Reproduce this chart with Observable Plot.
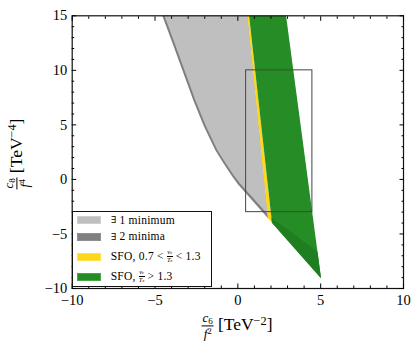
<!DOCTYPE html>
<html><head><meta charset="utf-8">
<script src="https://cdn.jsdelivr.net/npm/d3@7"></script>
<script src="https://cdn.jsdelivr.net/npm/@observablehq/plot@0.6"></script>
<style>
body{margin:0;background:#fff;}
#wrap{position:relative;width:420px;height:349px;font-family:"Liberation Serif","Times New Roman",serif;color:#000;overflow:hidden;}
#wrap svg{position:absolute;left:0;top:0;}
.lab{position:absolute;font-size:17.5px;white-space:nowrap;display:flex;align-items:center;line-height:1;}
.frac{display:inline-flex;flex-direction:column;align-items:center;font-size:13px;line-height:1;margin-right:4px;}
.frac .n{border-bottom:1px solid #000;padding:0 1px 1px;}
.frac .d{padding-top:1px;}
.it{font-style:italic;}
.sm{font-size:70%;}
.sb{font-size:70%;position:relative;top:0.25em;}
.sp{font-size:70%;position:relative;top:-0.45em;}
.ex{font-family:"DejaVu Serif",serif;font-size:10px;margin-right:3px;}
#legend{position:absolute;left:71.7px;top:210.7px;width:140px;height:76px;border:1.3px solid #111;background:#fff;box-sizing:border-box;}
.row{position:absolute;left:0;height:9px;}
.sw{position:absolute;left:4px;width:24px;height:8px;box-sizing:border-box;}
.tx{position:absolute;left:38px;font-size:11.5px;letter-spacing:0.25px;white-space:nowrap;display:flex;align-items:center;height:12px;top:-2.5px;}
.tfrac{display:inline-flex;flex-direction:column;align-items:center;font-size:6.5px;line-height:1;margin:0 3px;letter-spacing:0;}
.tfrac .n{border-bottom:0.6px solid #000;padding:0 0.5px;}
</style>
</head><body>
<div id="wrap"></div>
<script>
// ---- axis ticks ----
const xMajor = [-10, -5, 0, 5, 10];
const xMinor = [-9, -8, -7, -6, -4, -3, -2, -1, 1, 2, 3, 4, 6, 7, 8, 9];
const yMajor = [-10, -5, 0, 5, 10, 15];
const yMinor = [-9, -8, -7, -6, -4, -3, -2, -1, 1, 2, 3, 4, 6, 7, 8, 9, 11, 12, 13, 14];

// ---- regions ----
// "∃ 2 minima" : full allowed region (outer left boundary + right boundary at SFO edge)
const twoMinX = [-4.56, -3.95, -3.35, -2.69, -2.08, -1.36, -0.88, -0.40, 0.0, 1.82, 0.58];
const twoMinY = [15, 12.5, 10, 7.25, 4.96, 2.68, 1.5, 0.4, -0.45, -3.57, 15];
// "∃ 1 minimum"
const oneMinX = [-4.43, -3.82, -3.22, -2.56, -1.95, -1.23, -0.74, -0.26, 0.12, 1.0, 1.8, 0.58];
const oneMinY = [15, 12.5, 10, 7.25, 4.96, 2.68, 1.5, 0.4, -0.35, -1.85, -3.2, 15];
// "SFO, 0.7 < vc/Tc < 1.3"
const sfoWeakX = [0.58, 0.68, 2.06, 1.82];
const sfoWeakY = [15, 15, -3.98, -3.57];
// "SFO, vc/Tc > 1.3"
const sfoStrongX = [0.68, 2.91, 5.02, 2.06];
const sfoStrongY = [15, 15, -9.06, -3.98];
// overlap of strong SFO with 2-minima band
const sfoOverlapX = [2.02, 4.81, 5.02, 2.06];
const sfoOverlapY = [-3.5, -6.63, -9.06, -3.98];
// zoom-inset rectangle
const insetX = [0.5, 4.5];
const insetY = [-3, 10];

const colors = {one: "#bfbfbf", two: "#808080", weak: "#ffd71a", strong: "#268c26", overlap: "#1f7e1f"};

const pts = (xs, ys) => xs.map((x, i) => ({x, y: ys[i]}));
const poly = (xs, ys, fill) => Plot.line(pts(xs, ys), {x: "x", y: "y", fill, stroke: "none", curve: "linear"});

const noText = () => "";
const plot = Plot.plot({
  width: 420, height: 349,
  marginLeft: 71.7, marginRight: 17, marginTop: 15.3, marginBottom: 61,
  x: {domain: [-10, 10]},
  y: {domain: [-10, 15]},
  style: {fontFamily: '"Liberation Serif", "Times New Roman", serif', fontSize: "14.5px", background: "transparent", color: "#000"},
  marks: [
    poly(twoMinX, twoMinY, colors.two),
    poly(oneMinX, oneMinY, colors.one),
    poly(sfoWeakX, sfoWeakY, colors.weak),
    poly(sfoStrongX, sfoStrongY, colors.strong),
    poly(sfoOverlapX, sfoOverlapY, colors.overlap),
    Plot.rect([{x1: insetX[0], x2: insetX[1], y1: insetY[0], y2: insetY[1]}], {x1: "x1", x2: "x2", y1: "y1", y2: "y2", fill: "none", stroke: "#444", strokeWidth: 1}),
    Plot.frame({stroke: "#111", strokeWidth: 1.2}),
    Plot.axisX(xMajor, {anchor: "bottom", tickSize: -4.5, tickFormat: noText, label: null}),
    Plot.axisX(xMinor, {anchor: "bottom", tickSize: -2.5, tickFormat: noText, label: null}),
    Plot.axisX(xMajor, {anchor: "top", tickSize: -4.5, tickFormat: noText, label: null}),
    Plot.axisX(xMinor, {anchor: "top", tickSize: -2.5, tickFormat: noText, label: null}),
    Plot.axisY(yMajor, {anchor: "left", tickSize: -4.5, tickFormat: noText, label: null}),
    Plot.axisY(yMinor, {anchor: "left", tickSize: -2.5, tickFormat: noText, label: null}),
    Plot.axisY(yMajor, {anchor: "right", tickSize: -4.5, tickFormat: noText, label: null}),
    Plot.axisY(yMinor, {anchor: "right", tickSize: -2.5, tickFormat: noText, label: null}),
    Plot.axisX(xMajor, {anchor: "bottom", tickSize: 0, tickPadding: 6.5, label: null}),
    Plot.axisY(yMajor, {anchor: "left", tickSize: 0, tickPadding: 5, label: null})
  ]
});
const wrap = document.getElementById("wrap");
wrap.appendChild(plot);

// axis labels
const xl = document.createElement("div");
xl.className = "lab";
xl.style.left = "237px"; xl.style.top = "325.5px"; xl.style.transform = "translate(-50%,-50%)";
xl.innerHTML = '<span class="frac"><span class="n"><span class="it">c</span><span class="sb">6</span></span><span class="d"><span class="it">f</span><span class="sp">2</span></span></span><span>[TeV<span class="sp">\u22122</span>]</span>';
wrap.appendChild(xl);

const yl = document.createElement("div");
yl.className = "lab";
yl.style.left = "17px"; yl.style.top = "154px"; yl.style.transform = "translate(-50%,-50%) rotate(-90deg)";
yl.innerHTML = '<span class="frac"><span class="n"><span class="it">c</span><span class="sb">8</span></span><span class="d"><span class="it">f</span><span class="sp">4</span></span></span><span>[TeV<span class="sp">\u22124</span>]</span>';
wrap.appendChild(yl);

// legend
const legendLabels = [
  '<span class="ex">\u2203</span>1 minimum',
  '<span class="ex">\u2203</span>2 minima',
  'SFO, 0.7 &lt; <span class="tfrac"><span class="n"><span class="it">v</span><span class="sm">c</span></span><span class="d"><span class="it">T</span><span class="sm">c</span></span></span> &lt; 1.3',
  'SFO, <span class="tfrac"><span class="n"><span class="it">v</span><span class="sm">c</span></span><span class="d"><span class="it">T</span><span class="sm">c</span></span></span> &gt; 1.3'
];
const legendColors = [colors.one, colors.two, colors.weak, colors.strong];
const legendBorders = ["#d0d0d0", "#909090", "#ffe050", "#4aa54a"];
const rowTops = [4.5, 21, 41, 61];
const lg = document.createElement("div");
lg.id = "legend";
legendLabels.forEach((t, i) => {
  const r = document.createElement("div");
  r.className = "row";
  r.style.top = rowTops[i] + "px";
  r.innerHTML = `<div class="sw" style="background:${legendColors[i]};border:1px solid ${legendBorders[i]}"></div><div class="tx">${t}</div>`;
  lg.appendChild(r);
});
wrap.appendChild(lg);
</script>
</body></html>
